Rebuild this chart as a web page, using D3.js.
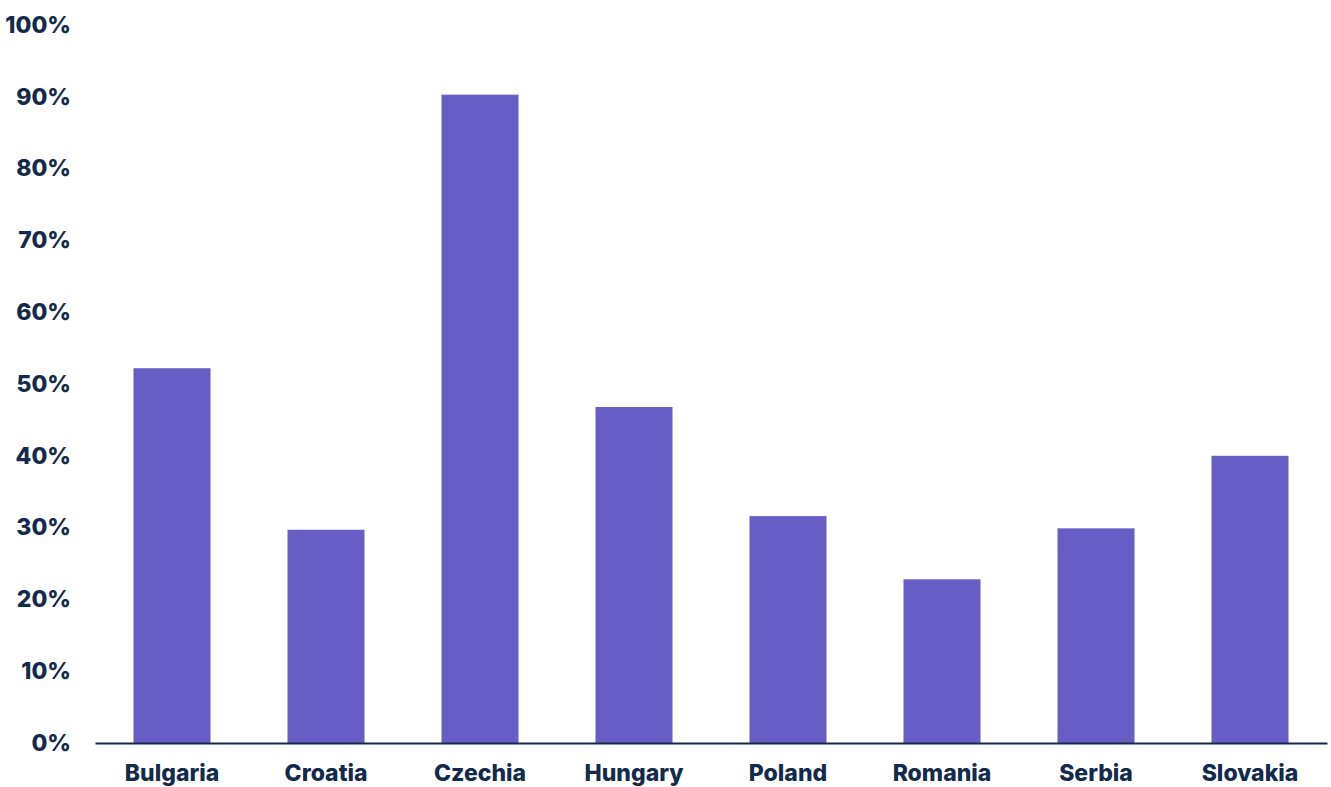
<!DOCTYPE html>
<html>
<head>
<meta charset="utf-8">
<script src="https://cdn.jsdelivr.net/npm/d3@7"></script>
<style>
  html, body { margin: 0; padding: 0; background: #ffffff; }
  svg { display: block; }
  text { font-family: Inter, "Noto Sans", sans-serif; font-weight: 800; fill: #132a4c; }
</style>
</head>
<body>
<svg id="chart" width="1331" height="787"></svg>
<script>
const categories = ["Bulgaria", "Croatia", "Czechia", "Hungary", "Poland", "Romania", "Serbia", "Slovakia"];
const values = [52.2, 29.7, 90.3, 46.8, 31.6, 22.8, 29.9, 40.0];
const yTicks = [0, 10, 20, 30, 40, 50, 60, 70, 80, 90, 100];

const svg = d3.select("#chart");
const margin = { top: 25, right: 4, bottom: 44, left: 95 };
const width = 1331, height = 787;
const labelFont = { size: 23, weight: 800, color: "#132a4c" };

const x = d3.scaleBand()
  .domain(categories)
  .range([margin.left, width - margin.right])
  .paddingInner(0.5)
  .paddingOuter(0.25);

const y = d3.scaleLinear()
  .domain([0, 100])
  .range([height - margin.bottom, margin.top]);

// bars
svg.append("g")
  .selectAll("rect")
  .data(categories.map((c, i) => ({ c, v: values[i] })))
  .join("rect")
  .attr("x", d => x(d.c))
  .attr("y", d => y(d.v))
  .attr("width", x.bandwidth())
  .attr("height", d => y(0) - y(d.v))
  .attr("fill", "#675dc4");

function styleLabels(sel) {
  sel.selectAll("text")
    .attr("font-size", labelFont.size)
    .style("font-family", "Inter, 'Noto Sans', sans-serif")
    .style("font-weight", labelFont.weight)
    .attr("fill", labelFont.color);
}

// y axis labels
const yAxis = svg.append("g")
  .attr("transform", `translate(${margin.left},0)`)
  .call(d3.axisLeft(y).tickValues(yTicks).tickFormat(d => d + "%").tickSize(0).tickPadding(24));
yAxis.select(".domain").remove();
styleLabels(yAxis);

// x axis
const xAxis = svg.append("g")
  .attr("transform", `translate(0,${y(0)})`)
  .call(d3.axisBottom(x).tickSize(0).tickPadding(22));
xAxis.select(".domain").attr("stroke", "#132a4c").attr("stroke-width", 2);
styleLabels(xAxis);
</script>
</body>
</html>
